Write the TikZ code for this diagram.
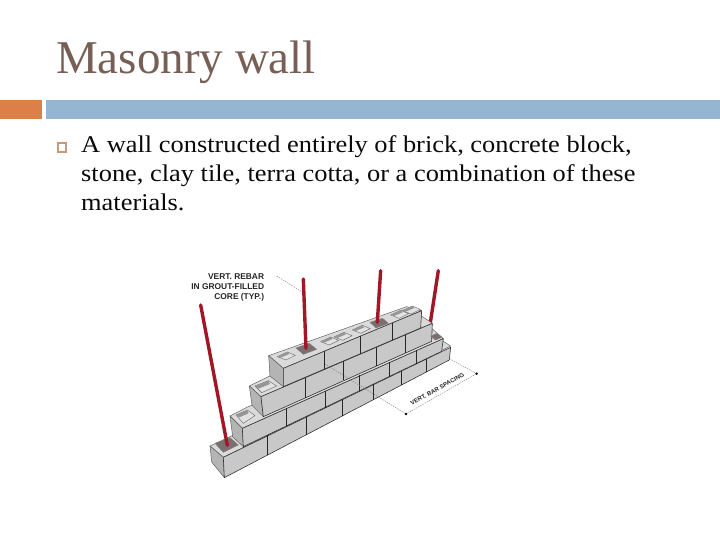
\documentclass[tikz,border=0pt]{standalone}
\usepackage{fontspec}
\setmainfont{Liberation Serif}
\newfontfamily\bodyfont[FakeStretch=1.1]{Liberation Serif}
\newfontfamily\labelfont{Liberation Sans}
\definecolor{titlecol}{HTML}{775F55}
\definecolor{barorange}{HTML}{DD8047}
\definecolor{barblue}{HTML}{94B6D2}
\definecolor{bulletcol}{HTML}{C49A78}
\definecolor{bodycol}{HTML}{0A0A0A}
\definecolor{rebarred}{HTML}{A01828}
\definecolor{frontgray}{HTML}{C8C8C8}
\definecolor{topgray}{HTML}{DADADA}
\definecolor{endgray}{HTML}{B4B4B4}
\definecolor{groutgray}{HTML}{7A6E6E}
\definecolor{coregray}{HTML}{E2E2E2}
\definecolor{wallgray}{HTML}{969696}
\tikzset{
  front/.style={fill=frontgray,draw=black!80,line width=0.6pt,line join=round},
  topface/.style={fill=topgray,draw=black!65,line width=0.45pt,line join=round},
  endface/.style={fill=endgray,draw=black!65,line width=0.45pt,line join=round},
  joint/.style={draw=black!85,line width=0.6pt},
  core/.style={fill=coregray,draw=black!60,line width=0.4pt},
  corewall/.style={fill=wallgray},
  grout/.style={fill=groutgray,draw=black!50,line width=0.4pt},
  rebar/.style={draw=rebarred,line width=3.4pt,line cap=round},
  dimline/.style={draw=black!55,line width=0.35pt,dash pattern=on 1.5pt off 1pt},
  bodytext/.style={anchor=base west,font=\bodyfont\fontsize{24}{24}\selectfont,text=bodycol,inner sep=0pt},
  rebarlabel/.style={anchor=base east,font=\labelfont\bfseries\fontsize{8.4}{8.4}\selectfont,text=black!85,inner sep=0pt},
  enddot/.style={circle,fill=black,inner sep=0pt,minimum size=2.6pt}
}
\begin{document}
\begin{tikzpicture}[x=1pt,y=-1pt]
\useasboundingbox (0,0) rectangle (720,540);
\fill[white] (0,0) rectangle (720,540);
\node[anchor=base west,inner sep=0pt,font=\fontsize{47}{47}\selectfont,text=titlecol] (title) at (56,73.5) {Masonry wall};
\fill[barorange] (0,100) rectangle (42,119);
\fill[barblue] (46,100) rectangle (720,119);
\node[draw=bulletcol,line width=2.2pt,fill=white,minimum size=8.4pt,inner sep=0pt] (bullet) at (62,147.5) {};
\node[bodytext] (l1) at (81,152.5) {A wall constructed entirely of brick, concrete block,};
\node[bodytext] (l2) at (81,181.5) {stone, clay tile, terra cotta, or a combination of these};
\node[bodytext] (l3) at (81,210.5) {materials.};
\begin{scope}[shift={(170,260)},x=0.3333pt,y=-0.3333pt]
  % rebar behind the wall (far end)
  \draw[rebar] (805,32) -- (780,195);
  % course 1
  \draw[topface] (120,558) -- (180,530) -- (790,225) -- (842,258) -- (160,592) -- cycle;
  \draw[endface] (120,558) -- (160,592) -- (163,653) -- (125,606) -- cycle;
  \draw[front] (160,592) -- (842,262) -- (838,300) -- (163,653) -- cycle;
  \foreach \a/\b/\c in {291/526/586,410/469/524,517/417/468,610/373/420,695/332/375,770/296/336}
    \draw[joint] (\a,\b) -- (\a,\c);
  % grout at the near end
  \draw[grout] (135,550) -- (180,533) -- (205,555) -- (160,577) -- cycle;
  \draw[rebar] (172,556) -- (92,135);
  % course 2
  \draw[topface] (180,468) -- (235,440) -- (785,205) -- (820,236) -- (217,505) -- cycle;
  \draw[core] (198,465) -- (232,450) -- (255,467) -- (220,490) -- cycle;
  \fill[corewall] (198,465) -- (232,450) -- (236,460) -- (208,472) -- cycle;
  \draw[endface] (180,468) -- (217,505) -- (220,560) -- (188,530) -- cycle;
  \draw[front] (217,505) -- (820,236) -- (815,274) -- (220,560) -- cycle;
  \foreach \a/\b/\c in {348/445/499,465/392/443,567/346/394,657/306/351,740/269/311}
    \draw[joint] (\a,\b) -- (\a,\c);
  % course 3
  \draw[topface] (238,378) -- (295,350) -- (750,165) -- (787,190) -- (273,410) -- cycle;
  \draw[core] (255,378) -- (295,362) -- (320,378) -- (275,398) -- cycle;
  \fill[corewall] (255,378) -- (295,362) -- (300,372) -- (266,386) -- cycle;
  \draw[endface] (238,378) -- (273,410) -- (280,470) -- (246,436) -- cycle;
  \draw[front] (273,410) -- (787,190) -- (785,244) -- (280,470) -- cycle;
  \foreach \a/\b/\c in {405/352/413,520/303/361,618/261/317,705/224/278}
    \draw[joint] (\a,\b) -- (\a,\c);
  % grout on the far step
  \draw[grout] (782,228) -- (802,220) -- (816,232) -- (796,240) -- cycle;
  % course 4
  \draw[topface] (296,287) -- (710,140) -- (755,152) -- (340,325) -- cycle;
  \foreach \x/\y in {350/288,480/243,520/229,575/208,690/163,725/150} {
    \draw[core] (\x-28,\y+2) -- (\x+2,\y-12) -- (\x+26,\y-2) -- (\x-2,\y+12) -- cycle;
    \fill[corewall] (\x-28,\y+2) -- (\x+2,\y-12) -- (\x+8,\y-6) -- (\x-18,\y+5) -- cycle;
  }
  \draw[grout] (378,264) -- (418,250) -- (440,268) -- (400,283) -- cycle;
  \draw[grout] (600,187) -- (638,175) -- (655,190) -- (618,204) -- cycle;
  \draw[endface] (296,287) -- (340,325) -- (340,380) -- (300,348) -- cycle;
  \draw[front] (340,325) -- (755,152) -- (752,204) -- (340,380) -- cycle;
  \foreach \a/\b/\c in {463/274/327,572/228/281,668/188/240}
    \draw[joint] (\a,\b) -- (\a,\c);
  \draw[rebar] (408,265) -- (400,57);
  \draw[rebar] (622,187) -- (632,32);
  % dimension
  \coordinate (ext1a) at (465,312);
  \coordinate (leadA) at (320,48);
  \coordinate (leadB) at (395,95);
  \coordinate (ext2a) at (838,296);
  \node[enddot] (dimA) at (708,462) {};
  \node[enddot] (dimB) at (920,341) {};
  \draw[dimline] (ext1a) -- (dimA);
  \draw[dimline] (ext2a) -- (dimB);
  \draw[dimline] (dimA) -- (dimB);
  \draw[dimline] (leadA) -- (leadB);
  \node[rotate=29,font=\labelfont\bfseries\fontsize{6}{6}\selectfont,text=black!85,inner sep=0pt] (spacing) at (802,388) {VERT. BAR SPACING};
  \node[rebarlabel] (r1) at (283,58) {VERT. REBAR};
  \node[rebarlabel] (r2) at (283,90) {IN GROUT-FILLED};
  \node[rebarlabel] (r3) at (283,120) {CORE (TYP.)};
\end{scope}
\end{tikzpicture}
\end{document}
